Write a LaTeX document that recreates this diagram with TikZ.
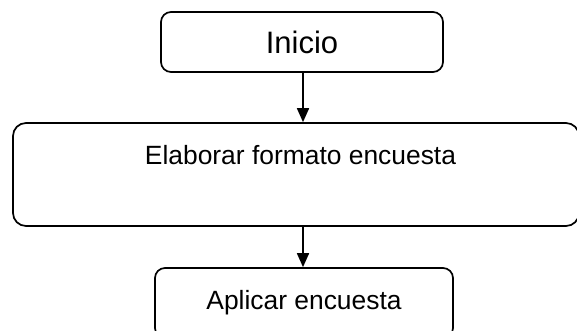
\documentclass[tikz,border=0pt]{standalone}
\usepackage{fontspec}
\setmainfont{Liberation Sans}
\usetikzlibrary{arrows.meta}
\begin{document}
\begin{tikzpicture}[x=1pt,y=-1pt,
  box/.style={draw=black, line width=1.7pt, rounded corners=10pt, inner sep=0pt},
  arr/.style={line width=1.7pt, -{Triangle[length=14pt,width=12pt]}},
  big/.style={font=\fontsize{31}{36}\selectfont},
  mid/.style={font=\fontsize{26.4}{31}\selectfont}]
\useasboundingbox (0,0) rectangle (577,330);
\clip (0,0) rectangle (577,330);
\node[box, minimum width=282pt, minimum height=60pt, big] (ini) at (302,42) {Inicio};
\node[box, rounded corners=13pt, minimum width=566pt, minimum height=103pt] (elab) at (296,174.5) {};
\node[mid, inner sep=0pt] (elabt) at (300.5,155) {Elaborar formato encuesta};
\node[box, minimum width=298pt, minimum height=70pt, mid] (apl) at (304,303) {Aplicar encuesta};
\coordinate (ax) at (303,0);
\draw[arr] (ini.south -| ax) -- (elab.north -| ax);
\draw[arr] (elab.south -| ax) -- (apl.north -| ax);
\end{tikzpicture}
\end{document}
